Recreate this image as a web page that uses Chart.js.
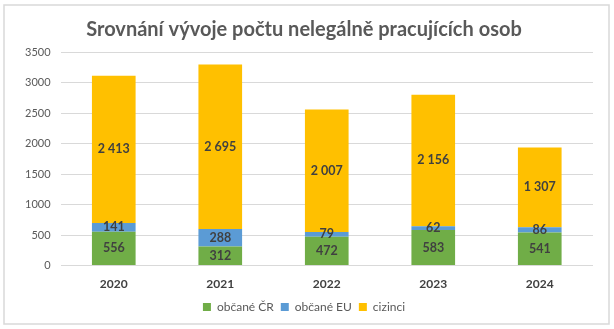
<!DOCTYPE html>
<html>
<head>
<meta charset="utf-8">
<script src="https://cdn.jsdelivr.net/npm/chart.js@4/dist/chart.umd.min.js"></script>
<style>
  html, body { margin: 0; padding: 0; background: #fff; }
  #wrap { width: 614px; height: 329px; }
</style>
</head>
<body>
<div id="wrap"><canvas id="graf" width="614" height="329"></canvas></div>
<script>
// roky a počty nelegálně pracujících osob
var roky = ['2020', '2021', '2022', '2023', '2024'];
var obcaneCR = [556, 312, 472, 583, 541];
var obcaneEU = [141, 288, 79, 62, 86];
var cizinci = [2413, 2695, 2007, 2156, 1307];
var osaY = [0, 500, 1000, 1500, 2000, 2500, 3000, 3500];

var pismo = 'Lato, "Open Sans", sans-serif';

// čísla s mezerou mezi tisíci (2 413)
function formatuj(n) {
  return String(n).replace(/\B(?=(\d{3})+(?!\d))/g, ' ');
}

// rámeček kolem celého grafu
var ramecek = {
  id: 'ramecek',
  beforeDraw: function(chart) {
    var ctx = chart.ctx;
    ctx.save();
    ctx.fillStyle = '#fff';
    ctx.fillRect(0, 0, chart.width, chart.height);
    ctx.strokeStyle = '#d9d9d9';
    ctx.lineWidth = 1.5;
    ctx.strokeRect(4, 5, 605, 319);
    ctx.restore();
  }
};

// popisky hodnot uprostřed segmentů
var popisky = {
  id: 'popisky',
  afterDatasetsDraw: function(chart) {
    var ctx = chart.ctx;
    ctx.save();
    ctx.font = 'bold 12.5px ' + pismo;
    ctx.fillStyle = '#404040';
    ctx.textAlign = 'center';
    ctx.textBaseline = 'middle';
    chart.data.datasets.forEach(function(ds, i) {
      chart.getDatasetMeta(i).data.forEach(function(bar, j) {
        var y = (bar.y + bar.base) / 2;
        ctx.fillText(formatuj(ds.data[j]), bar.x, y);
      });
    });
    ctx.restore();
  }
};

new Chart(document.getElementById('graf'), {
  type: 'bar',
  data: {
    labels: roky,
    datasets: [
      { label: 'občané ČR', data: obcaneCR, backgroundColor: '#70ad47' },
      { label: 'občané EU', data: obcaneEU, backgroundColor: '#5b9bd5' },
      { label: 'cizinci', data: cizinci, backgroundColor: '#ffc000' }
    ]
  },
  plugins: [ramecek, popisky],
  options: {
    responsive: false,
    animation: false,
    layout: { padding: { left: 15, right: 21, top: 6, bottom: 6 } },
    datasets: { bar: { categoryPercentage: 1, barPercentage: 0.41 } },
    plugins: {
      title: {
        display: true,
        text: 'Srovnání vývoje počtu nelegálně pracujících osob',
        color: '#595959',
        font: { family: pismo, size: 20, weight: 'bold' },
        padding: { top: 12, bottom: 10 }
      },
      legend: {
        position: 'bottom',
        labels: {
          color: '#595959',
          font: { family: pismo, size: 12 },
          boxWidth: 8,
          boxHeight: 8,
          padding: 7
        }
      },
      tooltip: { enabled: false }
    },
    scales: {
      x: {
        stacked: true,
        grid: { display: false },
        border: { display: false },
        ticks: { color: '#404040', font: { family: pismo, size: 12, weight: 'bold' }, padding: 3 }
      },
      y: {
        stacked: true,
        min: osaY[0],
        max: osaY[osaY.length - 1],
        afterBuildTicks: function(axis) {
          axis.ticks = osaY.map(function(v) { return { value: v }; });
        },
        grid: { color: '#d9d9d9', drawTicks: false },
        border: { display: false },
        ticks: {
          color: '#595959',
          font: { family: pismo, size: 11 },
          padding: 10,
          callback: function(v) { return String(v); }
        }
      }
    }
  }
});
</script>
</body>
</html>
